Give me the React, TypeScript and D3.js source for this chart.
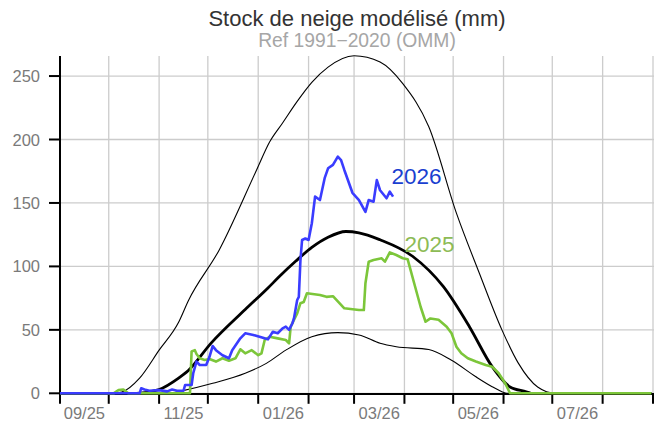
import React from "react";
import * as d3 from "d3";

type Pt = [string, number];

const title = "Stock de neige modélisé (mm)";
const subtitle = "Ref 1991\u22122020 (OMM)";
const yTicks = [0, 50, 100, 150, 200, 250];
const seasonStart = "2025-09-01";
const seasonEnd = "2026-09-01";

const refUpper: Pt[] = [
  ["2025-09-01", 0], ["2025-10-03", 0], ["2025-10-09", 1], ["2025-10-20", 12],
  ["2025-11-01", 34], ["2025-11-13", 56], ["2025-11-19", 73], ["2025-12-08", 113],
  ["2025-12-31", 176], ["2026-01-08", 198], ["2026-01-16", 213], ["2026-01-25", 230],
  ["2026-02-03", 245], ["2026-02-13", 257], ["2026-03-01", 266], ["2026-03-17", 261],
  ["2026-03-31", 244], ["2026-04-16", 210], ["2026-05-03", 142], ["2026-05-17", 95],
  ["2026-05-31", 50], ["2026-06-10", 24], ["2026-06-22", 5], ["2026-07-03", 0],
  ["2026-08-31", 0],
];

const refMedian: Pt[] = [
  ["2025-09-01", 0], ["2025-10-18", 0], ["2025-11-01", 3], ["2025-11-13", 12],
  ["2025-11-19", 18], ["2025-12-03", 39.5], ["2025-12-24", 66], ["2026-01-07", 83],
  ["2026-01-14", 92], ["2026-01-24", 104], ["2026-02-03", 115], ["2026-02-13", 123],
  ["2026-02-24", 127.5], ["2026-03-04", 126.5], ["2026-03-17", 121], ["2026-04-06", 108],
  ["2026-04-25", 84], ["2026-05-11", 52.5], ["2026-05-25", 21], ["2026-06-05", 5],
  ["2026-06-15", 1.2], ["2026-06-18", 0], ["2026-08-31", 0],
];

const refLower: Pt[] = [
  ["2025-09-01", 0], ["2025-11-08", 0], ["2025-11-13", 1.3], ["2025-12-04", 7.9],
  ["2025-12-24", 15.8], ["2026-01-06", 23.6], ["2026-01-18", 34], ["2026-02-03", 44.6],
  ["2026-02-19", 47.8], ["2026-03-04", 46], ["2026-03-17", 39.4], ["2026-03-27", 36.7],
  ["2026-04-16", 34.5], ["2026-04-30", 26], ["2026-05-15", 13], ["2026-05-25", 5.2],
  ["2026-05-31", 1.3], ["2026-06-03", 0], ["2026-08-31", 0],
];

const season2025: Pt[] = [
  ["2025-09-01", 0], ["2025-10-04", 0], ["2025-10-07", 2.5], ["2025-10-10", 3],
  ["2025-10-13", 0], ["2025-11-20", 0], ["2025-11-21", 33], ["2025-11-23", 34],
  ["2025-11-24", 31], ["2025-11-26", 27.6], ["2025-11-29", 26.3], ["2025-12-02", 27],
  ["2025-12-06", 25], ["2025-12-10", 27.6], ["2025-12-14", 25.7], ["2025-12-18", 27.6],
  ["2025-12-21", 34.7], ["2025-12-24", 31.5], ["2025-12-28", 34], ["2026-01-01", 30],
  ["2026-01-03", 31.5], ["2026-01-05", 42], ["2026-01-08", 44.6], ["2026-01-13", 43.3],
  ["2026-01-18", 42], ["2026-01-20", 39.4], ["2026-01-21", 52.5], ["2026-01-23", 57.8],
  ["2026-01-25", 63], ["2026-01-27", 71], ["2026-01-29", 72], ["2026-01-31", 78.8],
  ["2026-02-08", 77.5], ["2026-02-12", 76], ["2026-02-16", 76.5], ["2026-02-20", 71],
  ["2026-02-23", 67], ["2026-03-04", 65.6], ["2026-03-07", 65.6], ["2026-03-08", 86.7],
  ["2026-03-10", 103.7], ["2026-03-13", 105], ["2026-03-18", 106.4], ["2026-03-20", 103.7],
  ["2026-03-23", 111], ["2026-03-27", 109], ["2026-03-31", 106.4], ["2026-04-03", 105.6],
  ["2026-04-07", 86.7], ["2026-04-11", 68], ["2026-04-14", 56.4], ["2026-04-17", 59],
  ["2026-04-22", 58], ["2026-04-27", 52.5], ["2026-04-30", 47.3], ["2026-05-03", 36.7],
  ["2026-05-06", 31.5], ["2026-05-10", 27.6], ["2026-05-15", 25], ["2026-05-21", 22.3],
  ["2026-05-25", 21], ["2026-05-29", 15.8], ["2026-06-02", 7.9], ["2026-06-05", 0],
  ["2026-08-31", 0],
];

const season2026: Pt[] = [
  ["2025-09-01", 0], ["2025-10-20", 0], ["2025-10-21", 4], ["2025-10-23", 3],
  ["2025-10-26", 2], ["2025-11-01", 2.5], ["2025-11-06", 1.5], ["2025-11-09", 3],
  ["2025-11-12", 2], ["2025-11-16", 2], ["2025-11-17", 6.5], ["2025-11-21", 6.5],
  ["2025-11-22", 15.8], ["2025-11-24", 25], ["2025-11-26", 22.3], ["2025-11-30", 22.3],
  ["2025-12-02", 28.8], ["2025-12-04", 37.3], ["2025-12-06", 34], ["2025-12-10", 30],
  ["2025-12-14", 27.6], ["2025-12-16", 34], ["2025-12-21", 43.3], ["2025-12-24", 47.3],
  ["2025-12-29", 46], ["2026-01-07", 42.5], ["2026-01-10", 48.5], ["2026-01-13", 47.3],
  ["2026-01-16", 51.2], ["2026-01-18", 52.5], ["2026-01-20", 50], ["2026-01-22", 55],
  ["2026-01-23", 59], ["2026-01-25", 73.5], ["2026-01-26", 76], ["2026-01-27", 105],
  ["2026-01-28", 120.8], ["2026-01-30", 122], ["2026-02-01", 120.8], ["2026-02-03", 134],
  ["2026-02-05", 155], ["2026-02-08", 152.3], ["2026-02-11", 170], ["2026-02-13", 177.3],
  ["2026-02-16", 180], ["2026-02-19", 186.5], ["2026-02-21", 183.8], ["2026-02-23", 176],
  ["2026-02-28", 158], ["2026-03-04", 152.3], ["2026-03-08", 143], ["2026-03-10", 152.3],
  ["2026-03-13", 151], ["2026-03-15", 168], ["2026-03-17", 160], ["2026-03-21", 153.7],
  ["2026-03-23", 158.9], ["2026-03-25", 155],
];

const label2026: Pt = ["2026-03-24", 165];
const label2025: Pt = ["2026-04-01", 111];

const FONT = "'Liberation Sans', Arial, Helvetica, sans-serif";

export default function App() {
  const W = 654;
  const H = 422;
  const left = 60;
  const right = 653;
  const top = 56;
  const bottom = 393.3;

  const x = d3
    .scaleUtc()
    .domain([new Date(seasonStart), new Date(seasonEnd)])
    .range([left, right]);
  const yMax = (d3.max(refUpper, (d) => d[1]) as number) - 0.2;
  const y = d3.scaleLinear().domain([0, yMax]).range([bottom, top]);

  const line = d3
    .line<Pt>()
    .x((d) => x(new Date(d[0])))
    .y((d) => y(d[1]));
  const smooth = d3
    .line<Pt>()
    .x((d) => x(new Date(d[0])))
    .y((d) => y(d[1]))
    .curve(d3.curveMonotoneX);

  const months = d3.utcMonth.range(new Date(seasonStart), d3.utcDay.offset(new Date(seasonEnd), 1));
  const labelMonths = months.filter((m, i) => i % 2 === 0 && i < months.length - 1);
  const fmt = d3.utcFormat("%m/%y");

  return (
    <svg
      width={W}
      height={H}
      style={{ position: "absolute", left: 0, top: 0, background: "#fff" }}
      fontFamily={FONT}
    >
      <rect x={0} y={0} width={W} height={H} fill="#fff" />
      {/* grid */}
      {yTicks.map((t) => (
        <line key={"gy" + t} x1={left} x2={W} y1={y(t)} y2={y(t)} stroke="#cccccc" strokeWidth={1.3} />
      ))}
      {months.map((m, i) => (
        <line
          key={"gx" + i}
          x1={x(m)}
          x2={x(m)}
          y1={top}
          y2={bottom}
          stroke="#cccccc"
          strokeWidth={1.3}
        />
      ))}
      {/* axes */}
      <line x1={left} x2={left} y1={top} y2={bottom + 1} stroke="#000" strokeWidth={2} />
      <line x1={left - 1} x2={W} y1={bottom + 0.7} y2={bottom + 0.7} stroke="#000" strokeWidth={2} />
      {yTicks.map((t) => (
        <g key={"yt" + t}>
          <line x1={left - 11} x2={left} y1={y(t)} y2={y(t)} stroke="#000" strokeWidth={2} />
          <text x={40} y={y(t) + 6} textAnchor="end" fontSize={16.5} fill="#7a7a7a">
            {t}
          </text>
        </g>
      ))}
      {months.map((m, i) => (
        <line
          key={"xt" + i}
          x1={x(m)}
          x2={x(m)}
          y1={bottom}
          y2={bottom + 10.5}
          stroke="#000"
          strokeWidth={2}
        />
      ))}
      {labelMonths.map((m, i) => {
        const next = d3.utcMonth.offset(m, 1);
        const cx = (x(m) + x(next)) / 2;
        return (
          <text key={"xl" + i} x={cx} y={419} textAnchor="middle" fontSize={16.5} fill="#7a7a7a">
            {fmt(m)}
          </text>
        );
      })}
      {/* reference curves */}
      <path d={smooth(refUpper) || ""} fill="none" stroke="#000" strokeWidth={1.1} />
      <path d={smooth(refLower) || ""} fill="none" stroke="#000" strokeWidth={1.1} />
      <path d={smooth(refMedian) || ""} fill="none" stroke="#000" strokeWidth={2.8} />
      {/* seasons */}
      <path
        d={line(season2025) || ""}
        fill="none"
        stroke="#7cc63a"
        strokeWidth={2.6}
        strokeLinejoin="round"
      />
      <path
        d={line(season2026) || ""}
        fill="none"
        stroke="#3a3cff"
        strokeWidth={2.6}
        strokeLinejoin="round"
      />
      <text x={x(new Date(label2026[0]))} y={y(label2026[1])} fontSize={22.5} fill="#1a3fd0">
        2026
      </text>
      <text x={x(new Date(label2025[0]))} y={y(label2025[1])} fontSize={22.5} fill="#8dbb55">
        2025
      </text>
      {/* titles */}
      <text x={357} y={26} textAnchor="middle" fontSize={22} fill="#333333">
        {title}
      </text>
      <text x={357} y={47} textAnchor="middle" fontSize={19.3} fill="#a6a6a6">
        {subtitle}
      </text>
    </svg>
  );
}
